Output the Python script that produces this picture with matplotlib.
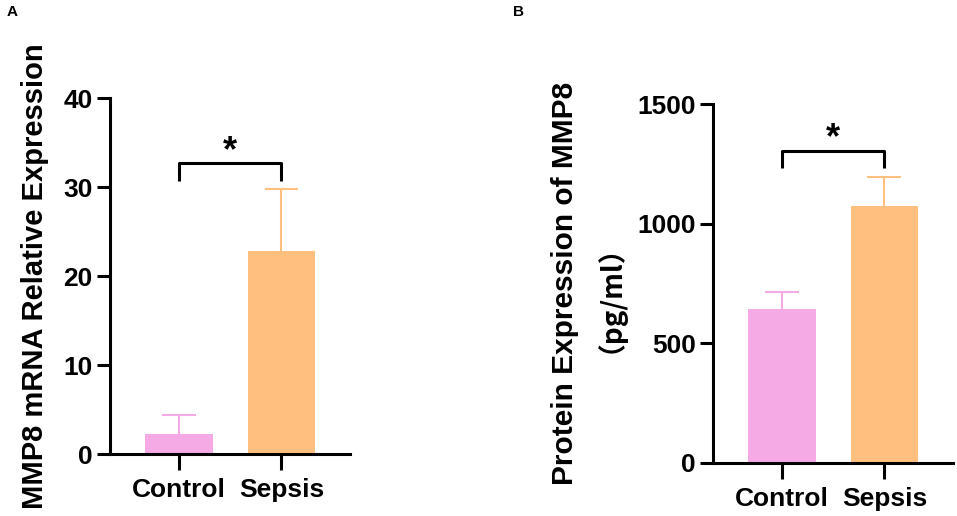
import numpy as np
import matplotlib
matplotlib.use("Agg")
import matplotlib.pyplot as plt

# datos
groups = ["Control", "Sepsis"]
mrna_mean = [2.3, 22.8]
mrna_err = [2.1, 7.0]
protein_mean = [643, 1074]
protein_err = [71, 121]

bar_colors = ["#F5AAE6", "#FFBF7F"]

plt.rcParams['font.family'] = ['Liberation Sans', 'Noto Sans CJK SC', 'DejaVu Sans']
plt.rcParams['font.weight'] = 'bold'

fig = plt.figure(figsize=(9.57, 5.16), dpi=100)


def panel(ax, means, errs, ylim, yticks, bracket_y, bracket_drop, star_y):
    x = np.arange(len(groups))
    ax.bar(x, means, width=0.66, color=bar_colors, zorder=2)
    # solo barra de error superior
    for xi, m, e, c in zip(x, means, errs, bar_colors):
        ax.vlines(xi, m, m + e, color=c, lw=1.5, zorder=1)
        ax.hlines(m + e, xi - 0.165, xi + 0.165, color=c, lw=1.5, zorder=1)
    ax.set_xlim(-0.67, 1.67)
    ax.set_ylim(*ylim)
    ax.set_yticks(yticks)
    ax.set_xticks(x)
    ax.set_xticklabels(groups, fontsize=19, fontweight='bold')
    ax.tick_params(axis='y', labelsize=19, width=2.2, length=9.5, pad=3)
    ax.tick_params(axis='x', width=2.2, length=11.5, pad=6)
    for lbl in ax.get_yticklabels():
        lbl.set_fontweight('bold')
    ax.spines['top'].set_visible(False)
    ax.spines['right'].set_visible(False)
    ax.spines['left'].set_linewidth(2.2)
    ax.spines['bottom'].set_linewidth(2.2)
    # barra de significancia
    ax.plot([0, 0, 1, 1], [bracket_y - bracket_drop, bracket_y, bracket_y, bracket_y - bracket_drop],
            color='black', lw=2.2, solid_capstyle='butt', clip_on=False)
    ax.text(0.5, star_y, "*", ha='center', va='center',
            fontsize=26, fontweight='bold')


axA = fig.add_axes([0.115, 0.120, 0.251, 0.690])
panel(axA, mrna_mean, mrna_err, (0, 40), [0, 10, 20, 30, 40], 32.7, 2.0, 34.0)
axA.set_ylabel("MMP8 mRNA Relative Expression", fontsize=21, fontweight='bold', labelpad=10)

axB = fig.add_axes([0.745, 0.103, 0.251, 0.695])
panel(axB, protein_mean, protein_err, (0, 1500), [0, 500, 1000, 1500], 1303, 71, 1358)
fig.text(0.590, 0.450, "Protein Expression of MMP8", rotation=90, fontsize=21.5,
         fontweight='bold', ha='center', va='center')
fig.text(0.622, 0.448, "（pg/ml）", rotation=90, fontsize=20,
         fontweight='bold', ha='center', va='center',
         family=['Noto Sans CJK SC', 'DejaVu Sans'])

fig.text(0.007, 0.976, "A", fontsize=11, fontweight='bold', va='center')
fig.text(0.536, 0.976, "B", fontsize=11, fontweight='bold', va='center')

fig.savefig("out.png", dpi=100)
